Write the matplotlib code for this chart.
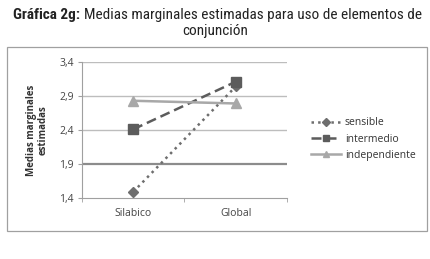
import matplotlib
matplotlib.use("Agg")
import matplotlib.pyplot as plt
from matplotlib.patches import Rectangle
from matplotlib import font_manager

categories = ["Silabico", "Global"]
sensible = [1.49, 3.04]
intermedio = [2.41, 3.11]
independiente = [2.83, 2.79]
yticks = [1.4, 1.9, 2.4, 2.9, 3.4]
ytick_labels = ["1,4", "1,9", "2,4", "2,9", "3,4"]

# look for a narrow face (with a bold weight) for the title
bold_names = set()
all_names = set()
for f in font_manager.fontManager.ttflist:
    all_names.add(f.name)
    w = f.weight if isinstance(f.weight, int) else 400
    if w >= 600 or "Bold" in str(f.fname):
        bold_names.add(f.name)
prefer = ["Liberation Sans Narrow", "Roboto Condensed", "Noto Sans Condensed",
          "Open Sans Condensed", "DejaVu Sans Condensed"]
title_font = "Liberation Sans"
for n in prefer:
    if n in all_names and n in bold_names:
        title_font = n
        break
axis_font = "Open Sans"

W, H = 431, 259
fig = plt.figure(figsize=(W / 100, H / 100), dpi=100)
fig.patch.set_facecolor("white")

# outer frame of the chart
fig.patches.append(Rectangle((7 / W, 1 - 231 / H), 420 / W, 184 / H, transform=fig.transFigure,
                             fill=False, edgecolor="#a0a0a0", linewidth=0.9))

# title, first word bold; size chosen so line 1 spans ~409 px
line1_bold = "Gráfica 2g:"
line1_rest = "Medias marginales estimadas para uso de elementos de"
fs = 10.5
for _ in range(3):
    t1 = fig.text(13 / W, 1 - 15 / H, line1_bold, fontsize=fs, fontweight="bold",
                  family=title_font, va="center", ha="left", color="#222222")
    t2 = fig.text(0, 0, line1_rest, fontsize=fs, family=title_font, color="#222222")
    fig.canvas.draw()
    w = t1.get_window_extent().width + 4 + t2.get_window_extent().width
    t1.remove()
    t2.remove()
    fs = min(fs * 409 / w, 11)

t1 = fig.text(13 / W, 1 - 15 / H, line1_bold, fontsize=fs, fontweight="bold",
              family=title_font, va="center", ha="left", color="#222222")
fig.canvas.draw()
bb = t1.get_window_extent()
fig.text((bb.x1 + 4) / W, 1 - 15 / H, line1_rest, fontsize=fs, family=title_font,
         va="center", ha="left", color="#222222")
fig.text(215 / W, 1 - 31 / H, "conjunción", fontsize=fs, family=title_font,
         va="center", ha="center", color="#222222")

ax = fig.add_axes([82 / W, 1 - 198 / H, 205 / W, 136 / H])
x = range(len(categories))
ax.plot(x, sensible, linestyle=":", color="#6e6e6e", linewidth=1.8, marker="D",
        markersize=5, label="sensible", zorder=3)
ax.plot(x, intermedio, linestyle=(0, (4, 2)), color="#5c5c5c", linewidth=1.8, marker="s",
        markersize=6.5, label="intermedio", zorder=3)
ax.plot(x, independiente, linestyle="-", color="#a8a8a8", linewidth=1.8, marker="^",
        markersize=6.5, label="independiente", zorder=3)

ax.set_xlim(-0.5, 1.5)
ax.set_ylim(1.4, 3.4)
ax.set_yticks(yticks)
ax.set_yticklabels(ytick_labels)
ax.set_xticks(list(x))
ax.set_xticklabels(categories)
ax.set_xticks([-0.5, 0.5, 1.5], minor=True)
ax.tick_params(axis="x", which="major", length=0, pad=7)
ax.tick_params(axis="x", which="minor", length=3, color="#a0a0a0")
ax.tick_params(axis="y", length=3, color="#a0a0a0", pad=3)
for lab in ax.get_xticklabels() + ax.get_yticklabels():
    lab.set_fontsize(7.5)
    lab.set_family(axis_font)
    lab.set_color("#444444")

for v in yticks[1:]:
    if v == 1.9:
        ax.axhline(v, color="#8c8c8c", linewidth=1.6, zorder=1)
    else:
        ax.axhline(v, color="#bdbdbd", linewidth=1.0, zorder=1)
for side in ["top", "right"]:
    ax.spines[side].set_visible(False)
ax.spines["left"].set_color("#a0a0a0")
ax.spines["bottom"].set_color("#a0a0a0")

fig.text(37 / W, 1 - 130 / H, "Medias marginales\nestimadas", rotation=90, fontsize=7,
         fontweight="bold", family=axis_font, ha="center", va="center",
         color="#333333", linespacing=1.1)

leg = fig.legend(loc="center left", bbox_to_anchor=(302 / W, 1 - 139 / H), frameon=False,
                 prop={"family": axis_font, "size": 7.5}, handlelength=2.8,
                 handletextpad=0.4, labelspacing=0.5, markerscale=0.75)
for txt in leg.get_texts():
    txt.set_color("#333333")

fig.savefig("out.png", dpi=100)
